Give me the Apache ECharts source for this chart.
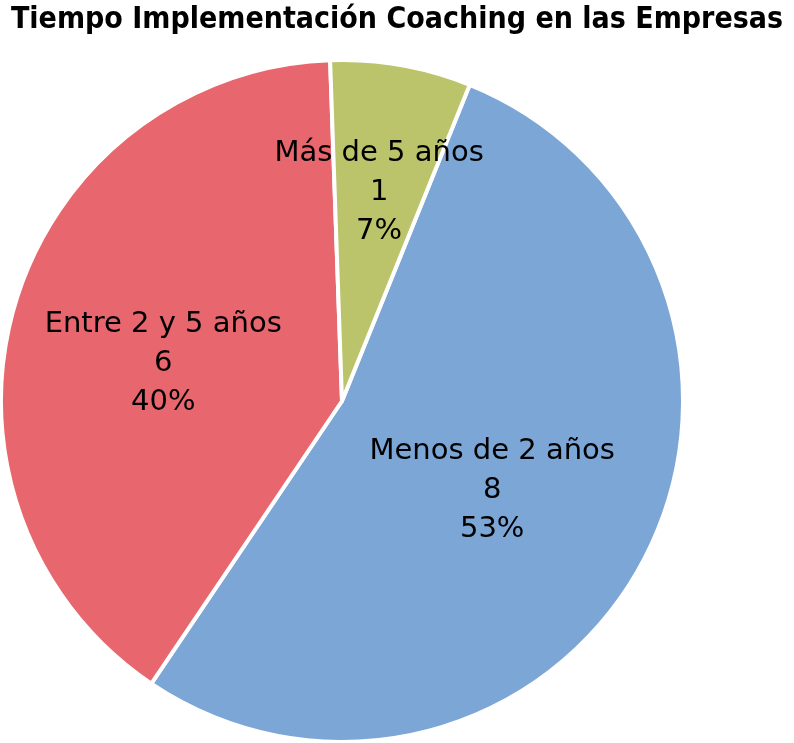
<!DOCTYPE html>
<html>
<head>
<meta charset="utf-8">
<script src="https://cdn.jsdelivr.net/npm/echarts@6/dist/echarts.min.js"></script>
<style>
  html, body { margin: 0; padding: 0; background: #fff; }
  #piechart { width: 794px; height: 743px; }
</style>
</head>
<body>
<div id="piechart"></div>
<script>
// datos del grafico
var categorias = ["Menos de 2 años", "Entre 2 y 5 años", "Más de 5 años"];
var valores = [8, 6, 1];
var colores = ["#7BA6D5", "#E8666D", "#BBC36B"];

var datos = [];
for (let i = 0; i < categorias.length; i++) {
  datos.push({ name: categorias[i], value: valores[i], itemStyle: { color: colores[i] } });
}

// ajuste fino de etiquetas (como en Excel)
var ajusteEtiquetas = [[-3, 8], [-12, 10], [7, -38]];

var chart = echarts.init(document.getElementById("piechart"));
var option = {
  animation: false,
  title: {
    text: "Tiempo Implementación Coaching en las Empresas",
    left: "center",
    top: 0,
    textStyle: {
      fontFamily: "DejaVu Sans Condensed",
      fontWeight: "bold",
      fontSize: 30,
      color: "#000"
    }
  },
  series: [
    {
      type: "pie",
      center: [342, 401],
      radius: 341,
      startAngle: 68,
      clockwise: true,
      itemStyle: {
        borderColor: "#fff",
        borderWidth: 4
      },
      label: {
        show: true,
        position: "inside",
        fontFamily: "DejaVu Sans",
        fontSize: 29,
        lineHeight: 39,
        color: "#000",
        formatter: function (p) {
          return p.name + "\n" + p.value + "\n" + Math.round(p.percent) + "%";
        }
      },
      labelLine: { show: false },
      labelLayout: function (params) {
        var a = ajusteEtiquetas[params.dataIndex];
        return { dx: a[0], dy: a[1] };
      },
      data: datos
    }
  ]
};
chart.setOption(option);
</script>
</body>
</html>
